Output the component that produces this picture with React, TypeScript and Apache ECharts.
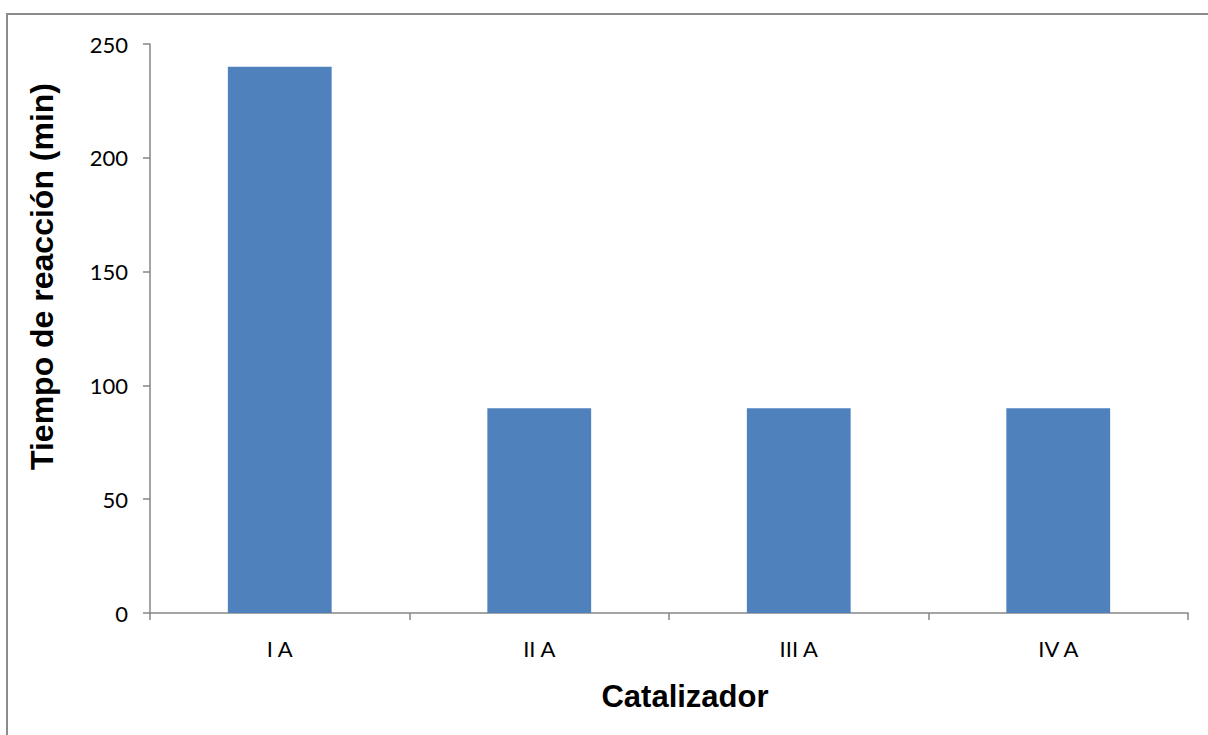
import React, { useEffect, useRef } from "react";
import * as echarts from "echarts";

const categories = ["I A", "II A", "III A", "IV A"];
const tiempoValues = [240, 90, 90, 90];
const yTicks = { min: 0, max: 250, interval: 50 };
const xTitle = "Catalizador";
const yTitle = "Tiempo de reacción (min)";

export default function App() {
  const ref = useRef<HTMLDivElement>(null);
  useEffect(() => {
    if (!ref.current) return;
    const chart = echarts.init(ref.current, null, { renderer: "svg" });
    const axisColor = "#868686";
    chart.setOption({
      animation: false,
      backgroundColor: "#ffffff",
      graphic: [
        {
          type: "rect",
          shape: { x: 7, y: 14, width: 1240, height: 760 },
          style: { fill: "none", stroke: "#8c8c8c", lineWidth: 2 },
          silent: true,
        },
      ],
      grid: { left: 150, right: 20, top: 44, bottom: 122 },
      xAxis: {
        type: "category",
        data: categories,
        name: xTitle,
        nameLocation: "middle",
        nameGap: 68,
        nameTextStyle: {
          fontFamily: "Liberation Sans",
          fontWeight: "bold",
          fontSize: 31,
          color: "#000",
          padding: [0, 0, 0, 32],
        },
        axisLine: { show: true, lineStyle: { color: axisColor, width: 1.5 } },
        axisTick: { show: true, length: 7, alignWithLabel: false, lineStyle: { color: axisColor, width: 1.5 } },
        axisLabel: { margin: 24, fontFamily: "Lato", fontSize: 22, color: "#000" },
        splitLine: { show: false },
      },
      yAxis: {
        type: "value",
        min: yTicks.min,
        max: yTicks.max,
        interval: yTicks.interval,
        name: yTitle,
        nameLocation: "middle",
        nameGap: 92,
        nameTextStyle: {
          fontFamily: "Liberation Sans",
          fontWeight: "bold",
          fontSize: 32,
          color: "#000",
          padding: [0, 0, 0, 104],
        },
        axisLine: { show: true, lineStyle: { color: axisColor, width: 1.5 } },
        axisTick: { show: true, length: 7, lineStyle: { color: axisColor, width: 1.5 } },
        axisLabel: { margin: 22, fontFamily: "Lato", fontSize: 22, color: "#000" },
        splitLine: { show: false },
      },
      series: [
        {
          type: "bar",
          data: tiempoValues,
          barWidth: "40%",
          itemStyle: { color: "#4F81BD" },
        },
      ],
    });
    return () => chart.dispose();
  }, []);
  return (
    <div
      ref={ref}
      style={{ position: "absolute", left: 0, top: 0, width: 1208, height: 735 }}
    />
  );
}
